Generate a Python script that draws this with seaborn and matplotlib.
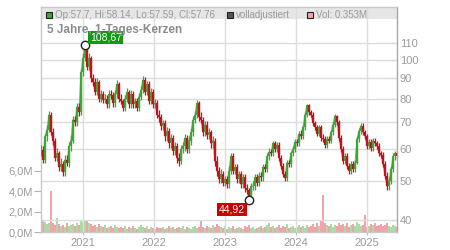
import numpy as np
import pandas as pd
import matplotlib
matplotlib.use("Agg")
import matplotlib.pyplot as plt
from matplotlib.patches import Rectangle
from matplotlib.ticker import NullLocator, NullFormatter
import seaborn as sns

# ---------------- data ----------------
closes = [
    59.7, 56.5, 64.5, 67, 73, 66, 63, 57, 58.5, 54,
    55, 52.5, 56.5, 55.5, 61, 63, 71, 70, 76.5, 74,
    93, 101, 108.67, 96, 101, 90, 88, 83, 88, 80,
    82, 79.5, 80, 77.5, 82, 81.5, 78, 82, 87, 80,
    79, 76, 80, 83, 77.5, 82, 77.5, 79, 76, 81,
    84, 89, 83, 87, 79, 83, 77.5, 78, 73, 72,
    68.5, 69.5, 64.5, 66.5, 62, 64, 59.5, 61, 57, 56,
    60, 61, 64, 60, 63, 66, 71, 73, 78, 72,
    71, 66, 69, 65, 66, 62, 63, 56, 53, 50.5,
    52, 49.5, 50.5, 49, 53, 57.5, 53, 54, 50.5, 52,
    49, 51, 48, 47.5, 44.92, 48.5, 48.5, 51, 49.5, 51.5,
    51, 54, 53.5, 57.5, 59, 58.5, 62, 60, 61.5, 57,
    54.5, 52, 50.8, 55.5, 55, 58.5, 60, 62.5, 62, 65.5,
    64.5, 68, 73, 77, 74, 73, 69.5, 68, 65.5, 68,
    64, 63.5, 61.5, 63.5, 63, 66, 69, 72.5, 70, 64,
    60, 56, 57.5, 54.5, 53, 55, 53.5, 55.5, 63.5, 66.5,
    68.5, 66, 64.5, 61, 62.5, 60.5, 63, 62, 61, 58.5,
    58, 55, 51.5, 48.5, 50, 53.5, 57.5, 58.5, 57.76,
]
highs = [
    61.5, 61, 65.5, 69, 74.5, 74, 67.5, 64, 60.5, 59.5,
    57, 56, 58, 58, 62.5, 65, 72.5, 72.5, 78, 78,
    95, 104, 108.67, 108, 104, 102, 92, 90, 90, 89,
    84, 83.5, 82, 81.5, 84, 84, 83, 84, 89, 88,
    82, 80, 81.5, 85, 84, 84, 83.5, 80.5, 80.5, 82.5,
    86, 91, 90.5, 88.5, 88.5, 85, 84.5, 80, 79.5, 75,
    73.5, 71, 71, 68, 67.5, 65.5, 65, 62.5, 62, 58.5,
    61.5, 62.5, 65.5, 65, 64.5, 67.5, 72.5, 74.5, 79.5, 79,
    74, 72, 70.5, 70.5, 67.5, 67, 64.5, 64, 57.5, 54,
    53.5, 53, 51.5, 51.5, 54.5, 58.5, 58.5, 55, 55, 53,
    53, 52, 52, 49, 48, 49.5, 50, 52, 52, 52.5,
    52.5, 55, 55, 58.5, 60.5, 60, 63, 63, 62.5, 62.5,
    58, 55.5, 53, 56.5, 56.5, 59.5, 61, 63.5, 63.5, 66.5,
    67, 69, 74, 77.5, 77.5, 75, 74, 70.5, 69, 69,
    69, 65.5, 64.5, 64.5, 64.5, 67, 70, 73.5, 73, 71,
    65, 61, 58.5, 58.5, 55.5, 56, 56, 56.5, 64.5, 67.5,
    69.5, 69.5, 67, 65.5, 63.5, 63.5, 64, 64, 63, 62,
    59.5, 59, 56, 52.5, 51, 54.5, 58.5, 59.5, 59,
]
lows = [
    57.5, 55.5, 55.5, 63, 66, 65, 61.5, 56, 56, 53,
    53, 51.5, 51.5, 54.5, 54, 59.5, 62, 68.5, 68.5, 72.5,
    73, 91, 99, 94, 94, 88, 86, 81.5, 81.5, 78.5,
    78.5, 78, 78, 76, 76, 80, 76.5, 76.5, 80.5, 78.5,
    77.5, 74.5, 74.5, 78.5, 76, 76, 76, 76, 74.5, 74.5,
    79.5, 82.5, 81.5, 81.5, 77.5, 77.5, 76, 76, 71.5, 70,
    67, 67, 63, 63, 60.5, 60.5, 58, 58, 55.5, 54.5,
    55, 58.5, 59.5, 58.5, 58.5, 61.5, 64.5, 69.5, 71.5, 70.5,
    69.5, 64.5, 64.5, 63.5, 63.5, 60.5, 60.5, 54.5, 51.5, 49.5,
    49.5, 48.5, 48.5, 48, 48, 52, 52, 52, 49.5, 49.5,
    48, 48, 47, 46.5, 44.5, 44.5, 47.5, 47.5, 48.5, 48.5,
    50, 50, 52.5, 52.5, 56.5, 57.5, 57.5, 59, 59, 56,
    53.5, 51, 50, 50, 54, 54, 57.5, 59, 61, 61,
    63.5, 63.5, 67, 72, 73, 72, 68.5, 67, 64.5, 64.5,
    63, 62.5, 60.5, 60.5, 62, 62, 65, 68, 69, 63,
    59, 55, 55, 53.5, 52, 52, 52.5, 52.5, 55, 62.5,
    65.5, 65, 63.5, 60, 60, 59.5, 59.5, 61, 60, 57.5,
    57, 54, 50.5, 47.5, 47.5, 49, 52.5, 56.5, 57,
]
volumes = [
    3.0, 1.2, 1.0, 0.8, 0.9, 4.0, 0.9, 0.7, 1.4, 0.8,
    0.6, 0.7, 0.5, 0.9, 0.6, 0.7, 0.8, 0.6, 0.9, 0.7,
    1.1, 1.0, 1.2, 1.1, 0.9, 0.8, 0.6, 0.7, 0.5, 0.8,
    0.6, 0.5, 0.7, 0.4, 0.5, 0.6, 0.4, 0.7, 0.5, 0.4,
    0.5, 0.4, 0.6, 0.3, 0.5, 0.4, 0.6, 0.4, 0.3, 0.5,
    0.7, 0.5, 0.4, 0.6, 0.3, 0.5, 0.4, 0.3, 0.5, 0.4,
    0.4, 0.5, 0.3, 0.4, 0.6, 0.4, 0.5, 0.3, 0.4, 0.5,
    0.4, 0.6, 0.3, 0.5, 0.4, 0.3, 0.5, 0.6, 0.4, 0.5,
    1.1, 0.5, 0.4, 0.6, 0.5, 0.4, 0.7, 0.5, 0.8, 0.6,
    0.5, 0.4, 0.6, 0.3, 0.5, 0.4, 0.6, 0.3, 0.4, 0.5,
    0.4, 0.3, 0.6, 0.5, 0.7, 0.4, 0.5, 0.3, 0.4, 0.5,
    0.6, 0.4, 0.5, 0.7, 0.9, 0.5, 0.6, 0.4, 0.5, 0.7,
    0.4, 0.6, 0.5, 0.8, 0.4, 0.5, 0.6, 0.4, 0.5, 0.7,
    0.5, 0.6, 0.4, 0.7, 0.5, 0.6, 0.8, 0.5, 0.9, 0.6,
    1.2, 3.6, 0.9, 0.7, 0.6, 0.8, 0.5, 0.7, 0.6, 0.9,
    0.7, 0.8, 0.6, 0.9, 0.5, 0.7, 0.8, 0.6, 1.0, 0.8,
    0.6, 0.7, 1.7, 0.5, 0.6, 0.8, 0.7, 0.9, 0.6, 0.7,
    0.8, 0.6, 0.7, 0.9, 0.6, 0.5, 0.7, 0.6, 0.5,
]
start_date, end_date = "2020-05-31", "2025-06-05"
price_ticks = [40, 50, 60, 70, 80, 90, 100, 110]
vol_ticks = [0, 2, 4, 6]
vol_tick_labels = ["0,0M", "2,0M", "4,0M", "6,0M"]
year_labels = ["2021", "2022", "2023", "2024", "2025"]
header_ohlc = "Op:57.7, Hi:58.14, Lo:57.59, Cl:57.76"
header_adj = "volladjustiert"
header_vol = "Vol: 0.353M"
title_text = "5 Jahre, 1-Tages-Kerzen"

# ---------------- style ----------------
sns.set_theme(style="white")
plt.rcParams["font.family"] = ["Liberation Sans", "DejaVu Sans"]

GREEN = "#3fa535"
RED = "#c0121b"
VGREEN = "#a9dba2"
VRED = "#f2a3aa"
GRID = "#dcdcdc"
TXT = "#9a9a9a"

dates = pd.date_range(start_date, end_date, periods=len(closes))
opens = [closes[0]] + closes[:-1]
df = pd.DataFrame({"date": dates, "open": opens, "close": closes,
                   "high": highs, "low": lows, "vol": volumes})
df["up"] = df["close"] >= df["open"]
df["blo"] = df[["open", "close"]].min(axis=1)
df["bhi"] = df[["open", "close"]].max(axis=1)
cols = [GREEN if u else RED for u in df["up"]]

W, H = 450, 250
fig = plt.figure(figsize=(W / 100, H / 100), dpi=100)
left, right, top, bottom = 41, 397, 7, 232
rect = [left / W, 1 - bottom / H, (right - left) / W, (bottom - top) / H]

axv = fig.add_axes(rect)
ax = fig.add_axes(rect, sharex=axv)
ax.patch.set_visible(False)

# volume
axv.bar(df["date"], df["vol"], width=8.5,
        color=[VGREEN if u else VRED for u in df["up"]], linewidth=0)
axv.set_ylim(0, 22.06)
axv.set_yticks(vol_ticks)
axv.set_yticklabels(vol_tick_labels)
axv.tick_params(axis="y", left=True, direction="out", length=5, width=0.8,
                color="#b0b0b0", labelcolor=TXT, labelsize=8, pad=1)
for s in axv.spines.values():
    s.set_visible(False)
axv.tick_params(axis="x", bottom=False, labelbottom=False)

# price
ax.set_yscale("log")
ax.set_ylim(37.35, 135.1)
ax.set_xlim(pd.Timestamp(start_date), pd.Timestamp(end_date))

# header band
ax.add_patch(Rectangle((0, 1 - 12 / 225), 1, 12 / 225, transform=ax.transAxes,
                       facecolor="#e6e6e6", edgecolor="none", zorder=0.5))
for p in price_ticks:
    ax.axhline(p, color=GRID, lw=1.0, zorder=1)
year_dates = [pd.Timestamp(f"{y}-01-01") for y in year_labels]
for d in year_dates:
    ax.axvline(d, color=GRID, lw=1.0, zorder=1)

sns.lineplot(data=df, x="date", y="close", ax=ax, color="#9e9e9e", lw=0.8,
             zorder=2, legend=False)
ax.vlines(df["date"], df["low"], df["high"], colors=cols, lw=0.9, zorder=3)
ax.vlines(df["date"], df["blo"], df["bhi"], colors=cols, lw=1.6, zorder=3)

# extrema
i_max = int(np.argmax(closes))
i_min = int(np.argmin(closes))
for i, col, off, ha in [(i_max, "#119911", (5, 8), "left"),
                        (i_min, "#cc0000", (-4, -10), "right")]:
    ax.plot(dates[i], closes[i], "o", mfc="white", mec="#222222", ms=6,
            mew=1.0, zorder=5)
    ax.annotate(f"{closes[i]:.2f}".replace(".", ","), (dates[i], closes[i]),
                xytext=off, textcoords="offset pixels", ha=ha, va="center",
                color="white", fontsize=7.5, zorder=6,
                bbox=dict(boxstyle="square,pad=0.15", fc=col, ec="none"))

ax.set_xlabel("")
ax.set_ylabel("")
ax.yaxis.tick_right()
ax.set_yticks(price_ticks)
ax.set_yticklabels([str(p) for p in price_ticks])
ax.yaxis.set_minor_locator(NullLocator())
ax.yaxis.set_minor_formatter(NullFormatter())
ax.tick_params(axis="y", right=True, left=False, direction="in", length=4,
               width=0.8, color="#a0a0a0", labelcolor=TXT, labelsize=8, pad=2)
ax.set_xticks(year_dates)
ax.set_xticklabels(year_labels)
ax.tick_params(axis="x", bottom=True, direction="out", length=2, width=0.8,
               color="#c0c0c0", labelcolor=TXT, labelsize=8, pad=2)

for name, s in ax.spines.items():
    s.set_visible(True)
    s.set_linewidth(1.0)
    s.set_color("#c8c8c8")
ax.spines["right"].set_color("#a8a8a8")

# header legend
def px(x, y):
    return x / W, 1 - y / H

for (x0, fc, label) in [(46, "#3fa535", header_ohlc),
                        (227, "#555555", header_adj),
                        (307, "#f2a3aa", header_vol)]:
    fx, fy = px(x0, 18)
    fig.patches.append(Rectangle((fx, fy), 6 / W, 6 / H, transform=fig.transFigure,
                                 facecolor=fc, edgecolor="#222222", lw=0.8))
    tx, ty = px(x0 + 9, 14.5)
    fig.text(tx, ty, label, color=TXT, fontsize=7, va="center", ha="left")

tx, ty = px(47, 30)
fig.text(tx, ty, title_text, color="#8c8c8c", fontsize=8.5, fontweight="bold",
         va="center", ha="left")

fig.savefig("out.png", dpi=100)
